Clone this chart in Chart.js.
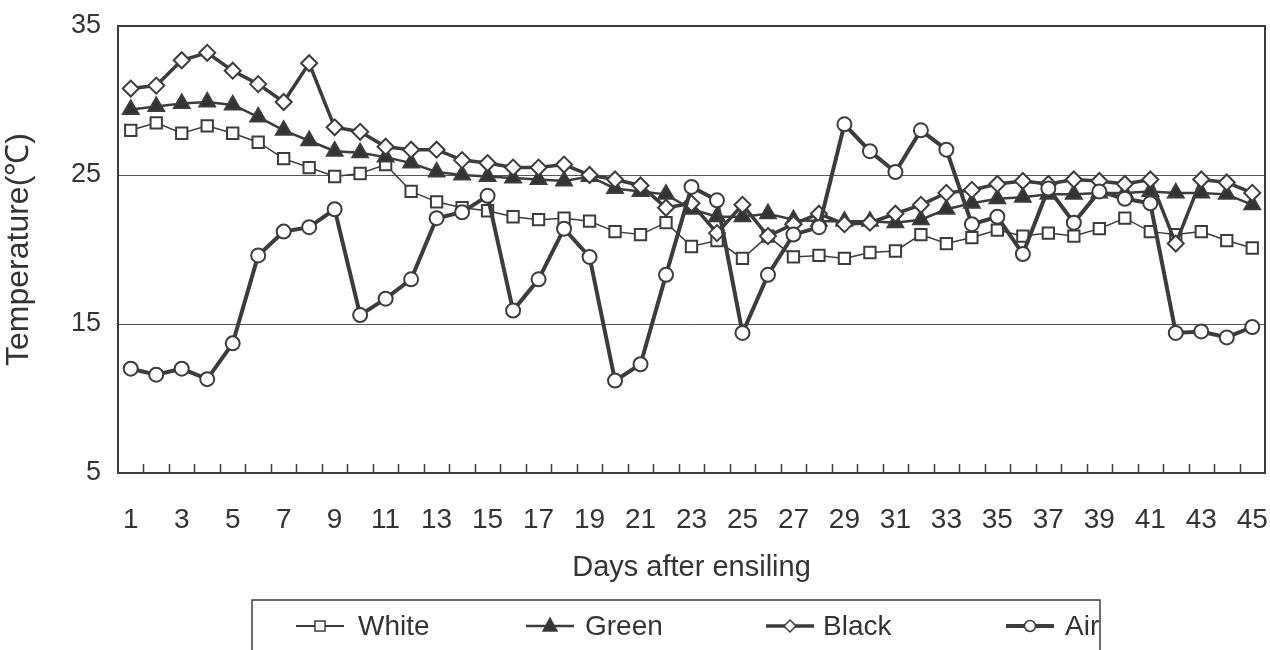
<!DOCTYPE html>
<html>
<head>
<meta charset="utf-8">
<title>Temperature after ensiling</title>
<script src="https://cdn.jsdelivr.net/npm/chart.js@4.4.1/dist/chart.umd.min.js"></script>
<style>
  body { margin: 0; background: #fff; }
  #wrap { width: 1270px; height: 650px; }
</style>
</head>
<body>
<div id="wrap"><canvas id="tempChart" width="1270" height="650"></canvas></div>
<script>
// days after ensiling, 1..45
const days = [];
for (let d = 1; d <= 45; d++) days.push(String(d));

// values (deg C)
const white = [28.0, 28.5, 27.8, 28.3, 27.8, 27.2, 26.1, 25.5, 24.9, 25.1,
               25.7, 23.9, 23.2, 22.8, 22.6, 22.2, 22.0, 22.1, 21.9, 21.2,
               21.0, 21.8, 20.2, 20.6, 19.4, 20.9, 19.5, 19.6, 19.4, 19.8,
               19.9, 21.0, 20.4, 20.8, 21.3, 20.9, 21.1, 20.9, 21.4, 22.1,
               21.2, 21.0, 21.2, 20.6, 20.1];
const green = [29.4, 29.6, 29.8, 29.9, 29.7, 28.9, 28.0, 27.3, 26.6, 26.5,
               26.2, 25.8, 25.2, 25.0, 24.9, 24.8, 24.7, 24.6, 24.9, 24.1,
               23.9, 23.7, 22.7, 22.2, 22.2, 22.4, 22.0, 21.9, 21.9, 21.9,
               21.8, 22.0, 22.7, 23.1, 23.4, 23.5, 23.7, 23.7, 23.8, 23.8,
               23.9, 23.8, 23.8, 23.7, 23.0];
const black = [30.8, 31.0, 32.7, 33.2, 32.0, 31.1, 29.9, 32.5, 28.2, 27.9,
               26.9, 26.7, 26.7, 26.0, 25.8, 25.5, 25.5, 25.7, 25.0, 24.7,
               24.3, 22.8, 23.1, 21.1, 23.0, 20.9, 21.7, 22.4, 21.7, 21.8,
               22.4, 23.0, 23.8, 24.0, 24.4, 24.6, 24.4, 24.7, 24.6, 24.4,
               24.7, 20.4, 24.7, 24.5, 23.8];
const air = [12.0, 11.6, 12.0, 11.3, 13.7, 19.6, 21.2, 21.5, 22.7, 15.6,
             16.7, 18.0, 22.1, 22.5, 23.6, 15.9, 18.0, 21.4, 19.5, 11.2,
             12.3, 18.3, 24.2, 23.3, 14.4, 18.3, 21.0, 21.5, 28.4, 26.6,
             25.2, 28.0, 26.7, 21.7, 22.2, 19.7, 24.1, 21.8, 23.9, 23.4,
             23.1, 14.4, 14.5, 14.1, 14.8];

const yTicks = [5, 15, 25, 35];
const ink = "#3c3c3c";
const textCol = "#333";
const fontFam = "'Liberation Sans', Arial, sans-serif";

// frame round the plot area + small inward tick marks between the days
const framePlugin = {
  id: "frame",
  beforeDatasetsDraw(chart) {
    const { ctx, chartArea: a, scales: { x } } = chart;
    ctx.save();
    ctx.strokeStyle = ink;
    ctx.lineWidth = 1.5;
    ctx.beginPath();
    for (let i = 1; i < days.length; i++) {
      const px = Math.round((x.getPixelForValue(i - 1) + x.getPixelForValue(i)) / 2) + 0.5;
      ctx.moveTo(px, a.bottom);
      ctx.lineTo(px, a.bottom - 9);
    }
    ctx.stroke();
    ctx.lineWidth = 2;
    ctx.strokeRect(a.left, a.top, a.right - a.left, a.bottom - a.top);
    ctx.restore();
  }
};

// boxed legend with line + marker like the original
const legendPlugin = {
  id: "boxLegend",
  afterDraw(chart, args, opts) {
    const { ctx } = chart;
    ctx.save();
    ctx.strokeStyle = ink;
    ctx.lineWidth = 1.5;
    ctx.strokeRect(opts.left, opts.top, opts.right - opts.left, 80);
    ctx.font = opts.fontSize + "px " + fontFam;
    ctx.textBaseline = "middle";
    ctx.fillStyle = textCol;
    chart.data.datasets.forEach((ds, i) => {
      const cx = opts.markX[i];
      const cy = opts.y;
      ctx.strokeStyle = ink;
      ctx.lineWidth = Math.max(2, ds.borderWidth);
      ctx.beginPath();
      ctx.moveTo(cx - 24, cy);
      ctx.lineTo(cx + 24, cy);
      ctx.stroke();
      ctx.lineWidth = 1.5;
      ctx.fillStyle = ds.pointBackgroundColor;
      ctx.beginPath();
      const r = 6;
      if (ds.pointStyle === "rect") {
        ctx.rect(cx - 5, cy - 5, 10, 10);
      } else if (ds.pointStyle === "rectRot") {
        ctx.moveTo(cx, cy - r); ctx.lineTo(cx + r, cy); ctx.lineTo(cx, cy + r); ctx.lineTo(cx - r, cy); ctx.closePath();
      } else if (ds.pointStyle === "triangle") {
        ctx.moveTo(cx, cy - 8); ctx.lineTo(cx + 7, cy + 5); ctx.lineTo(cx - 7, cy + 5); ctx.closePath();
      } else {
        ctx.arc(cx, cy, 5.5, 0, Math.PI * 2);
      }
      ctx.fill();
      ctx.stroke();
      ctx.fillStyle = textCol;
      ctx.fillText(ds.label, opts.textX[i], cy + 1);
    });
    ctx.restore();
  }
};

function series(label, data, style, lineW, radius, fill, order) {
  return {
    label: label,
    data: data,
    borderColor: ink,
    borderWidth: lineW,
    pointStyle: style,
    pointRadius: radius,
    pointHoverRadius: radius,
    pointBackgroundColor: fill,
    pointBorderColor: ink,
    pointBorderWidth: 2,
    tension: 0,
    clip: false,
    order: order
  };
}

const config = {
  type: "line",
  data: {
    labels: days,
    datasets: [
      series("White", white, "rect", 1.5, 8, "#ffffff", 3),
      series("Green", green, "triangle", 2.5, 9, "#333333", 2),
      series("Black", black, "rectRot", 3.5, 8, "#ffffff", 1),
      series("Air", air, "circle", 4, 7, "#ffffff", 0)
    ]
  },
  options: {
    responsive: false,
    animation: false,
    layout: { autoPadding: false, padding: { top: 26, right: 5, bottom: 50, left: 0 } },
    plugins: {
      legend: { display: false },
      tooltip: { enabled: false },
      boxLegend: {
        left: 252, right: 1100, top: 600, y: 626, fontSize: 28,
        markX: [320, 550, 790, 1030],
        textX: [358, 585, 823, 1065]
      }
    },
    scales: {
      x: {
        type: "category",
        offset: true,
        grid: { display: false, drawTicks: false },
        border: { display: false },
        ticks: {
          autoSkip: false,
          maxRotation: 0,
          padding: 30,
          color: textCol,
          font: { family: fontFam, size: 28 },
          callback: function (val, i) { return i % 2 === 0 ? days[i] : ""; }
        },
        title: {
          display: true,
          text: "Days after ensiling",
          color: textCol,
          font: { family: fontFam, size: 29 },
          padding: { top: 0, bottom: 15 }
        },
        afterFit: function (s) { s.height = 127; s.paddingLeft = 0; s.paddingRight = 0; }
      },
      y: {
        min: 5,
        max: 35,
        grid: {
          drawTicks: false,
          color: function (c) { return (c.tick.value === 15 || c.tick.value === 25) ? "#555" : "rgba(0,0,0,0)"; },
          lineWidth: 1
        },
        border: { display: false },
        afterBuildTicks: function (s) { s.ticks = yTicks.map(v => ({ value: v })); },
        ticks: {
          padding: 17,
          color: textCol,
          font: { family: fontFam, size: 27 }
        },
        title: {
          display: true,
          text: "Temperature(℃)",
          color: textCol,
          font: { family: fontFam, size: 32 },
          padding: { top: 0, bottom: 0 }
        },
        afterFit: function (s) { s.width = 118; s.paddingTop = 0; s.paddingBottom = 0; }
      }
    }
  },
  plugins: [framePlugin, legendPlugin]
};

new Chart(document.getElementById("tempChart").getContext("2d"), config);
</script>
</body>
</html>
